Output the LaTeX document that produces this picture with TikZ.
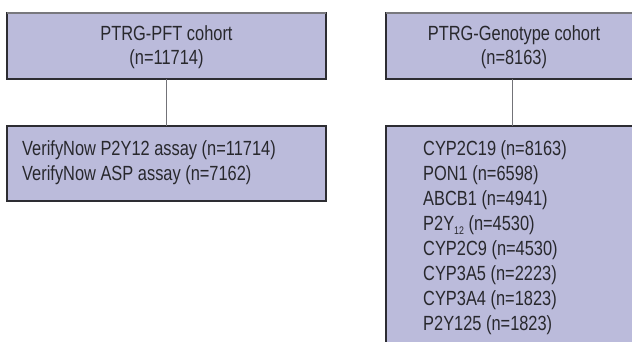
\documentclass[tikz,border=0pt]{standalone}
\usepackage{fontspec}
\setmainfont{Liberation Sans}[FakeStretch=0.8]
\definecolor{boxfill}{RGB}{187,187,219}
\definecolor{boxline}{RGB}{45,45,50}
\definecolor{topline}{RGB}{120,120,125}
\definecolor{txt}{RGB}{40,40,45}
\definecolor{conn}{RGB}{115,115,120}
\newcommand{\subsmall}[1]{\raisebox{-3.5pt}{\fontsize{11}{11}\selectfont #1}}
\tikzset{
  cbox/.style={draw=boxline, fill=boxfill, line width=1.1pt, rectangle, inner sep=0pt, outer sep=0pt},
  topedge/.style={draw=topline, line width=1.1pt},
  link/.style={draw=conn, line width=1pt},
  lbl/.style={text=txt, inner sep=0pt, font=\fontsize{20.5}{24.5}\selectfont},
  lst/.style={text=txt, inner sep=0pt, font=\fontsize{20.5}{25}\selectfont}
}
\begin{document}
\begin{tikzpicture}[x=1pt,y=-1pt]
\useasboundingbox (0,0) rectangle (632,342);
\clip (0,0) rectangle (632,342);
% boxes
\node[cbox, minimum width=319pt, minimum height=66pt] (pft) at (166.5,46) {};
\node[cbox, minimum width=252pt, minimum height=66pt] (geno) at (512,46) {};
\node[cbox, minimum width=319pt, minimum height=75pt] (assay) at (166.5,163.5) {};
\node[cbox, minimum width=252pt, minimum height=230pt] (genes) at (512,241) {};
\draw[topedge] (pft.north west) -- (pft.north east);
\draw[topedge] (geno.north west) -- (geno.north east);
% connectors
\draw[link] (pft.south) -- (assay.north);
\draw[link] (geno.south) -- (genes.north);
% texts
\node[lbl, align=center] (t1) at (166.5,47) {PTRG-PFT cohort\\(n=11714)};
\node[lbl, align=center] (t2) at (514,47) {PTRG-Genotype cohort\\(n=8163)};
\node[lbl, align=left, anchor=north west] (t3) at (22,140.5) {VerifyNow P2Y12 assay (n=11714)\\VerifyNow ASP assay (n=7162)};
\node[lst, align=left, anchor=north west] (t4) at (423,140.5) {CYP2C19 (n=8163)\\PON1 (n=6598)\\ABCB1 (n=4941)\\P2Y\subsmall{12} (n=4530)\\CYP2C9 (n=4530)\\CYP3A5 (n=2223)\\CYP3A4 (n=1823)\\P2Y125 (n=1823)};
\end{tikzpicture}
\end{document}
